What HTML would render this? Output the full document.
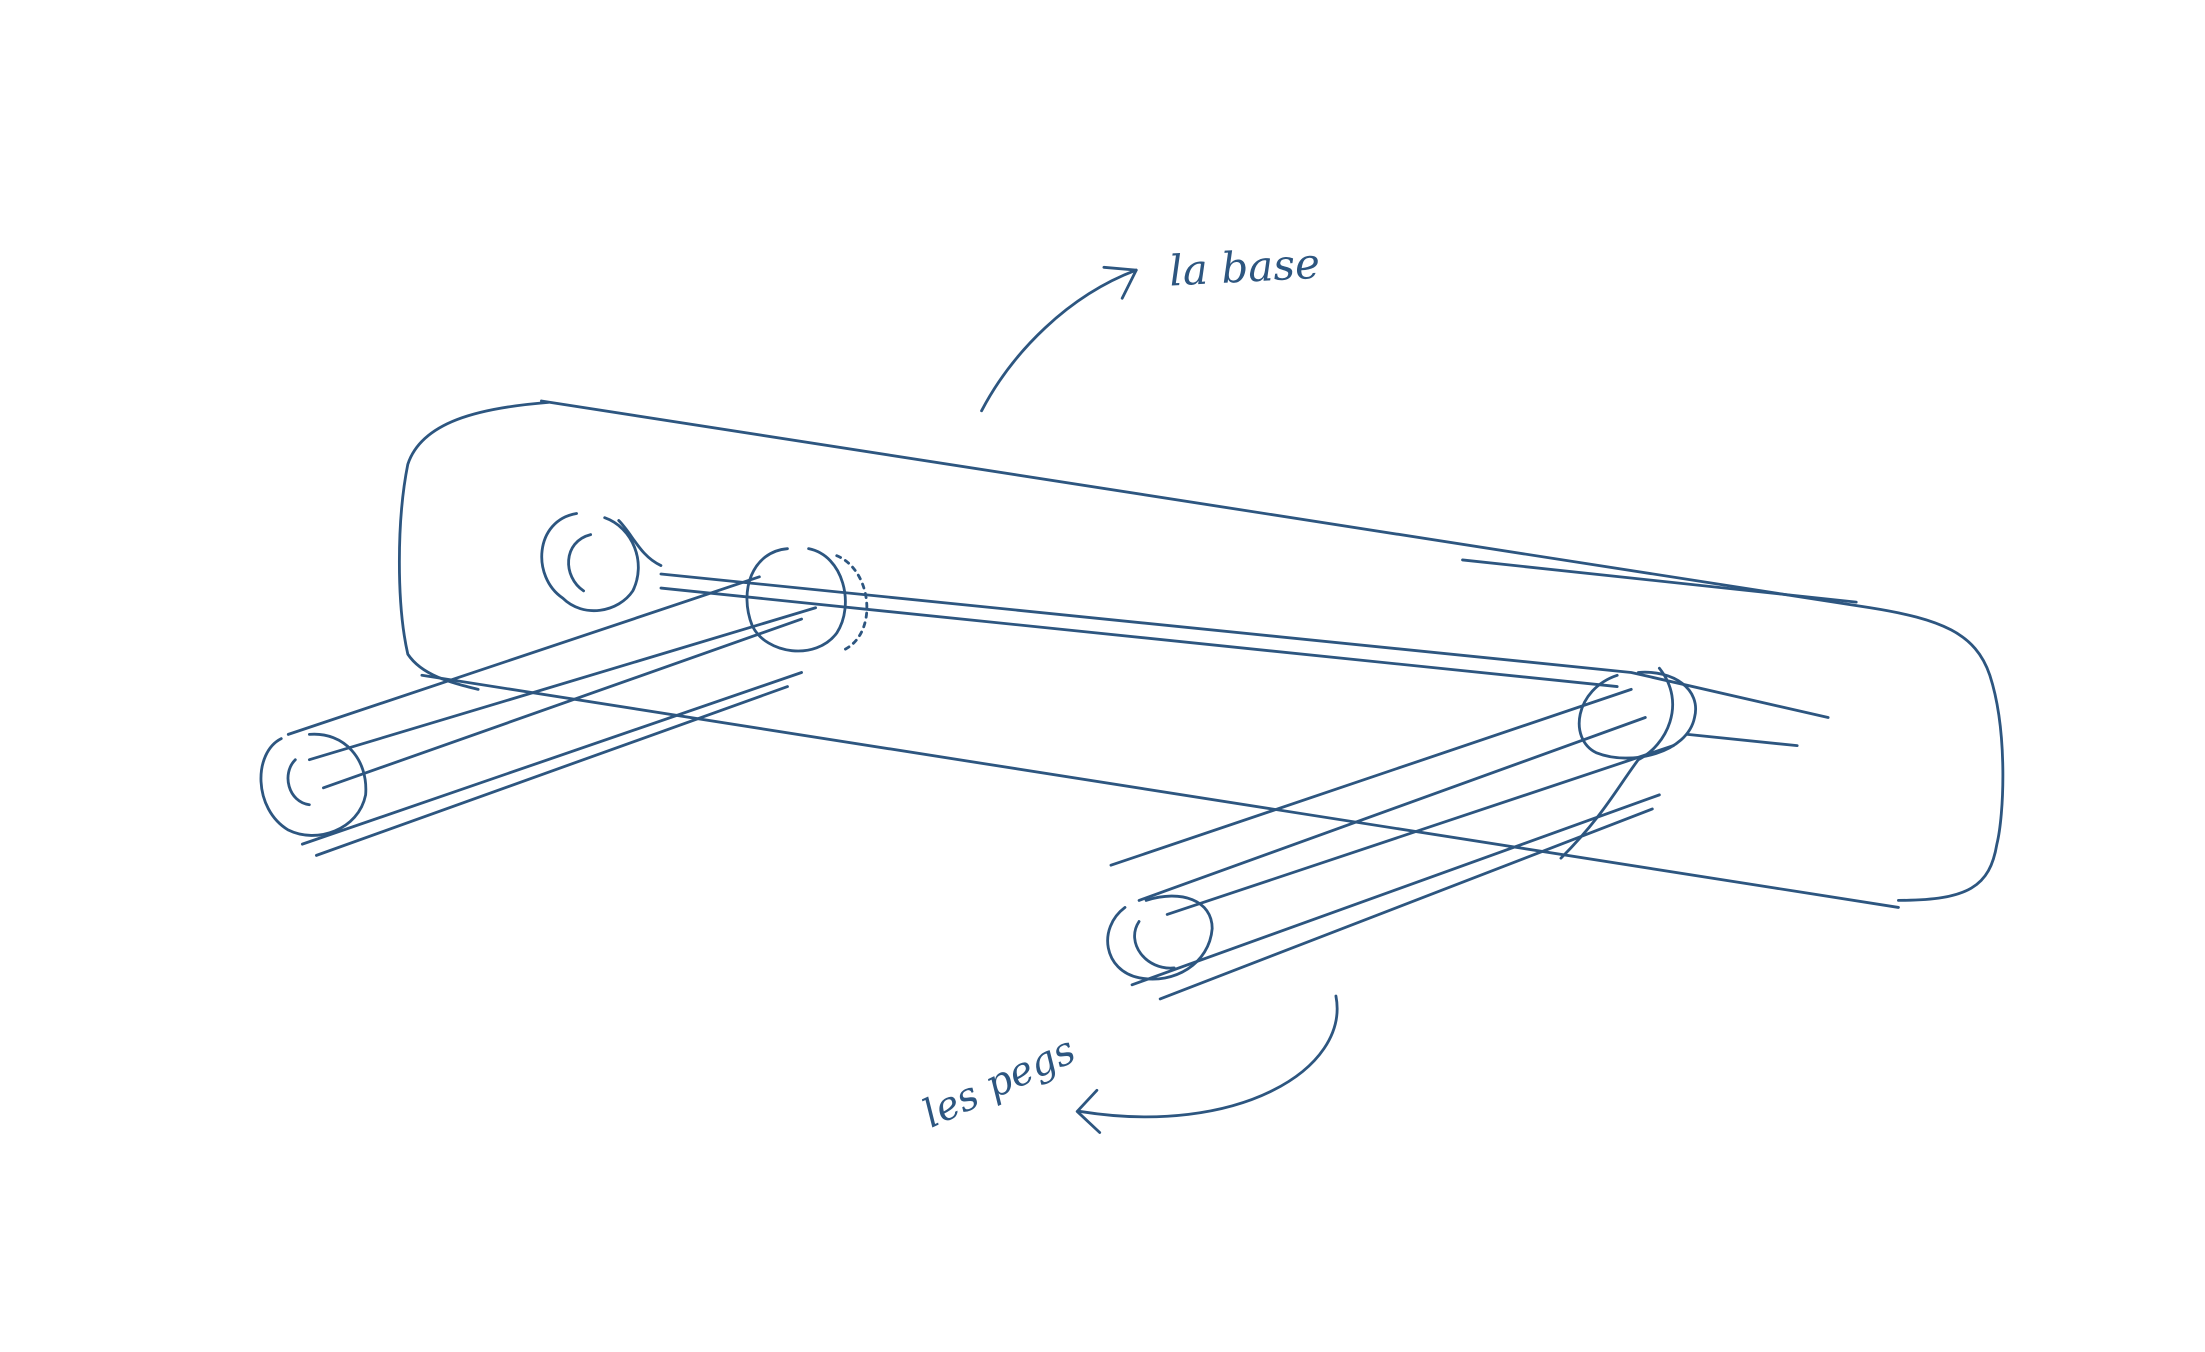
<!DOCTYPE html>
<html><head><meta charset="utf-8"><style>
html,body{margin:0;padding:0;background:#fff;}
svg{display:block;}
</style></head><body>
<svg width="2205" height="1352" viewBox="0 0 1568 961" preserveAspectRatio="none" xmlns="http://www.w3.org/2000/svg">
<rect width="1568" height="961" fill="#fff"/>
<g fill="none" stroke="#2d5680" stroke-width="2" stroke-linecap="round" stroke-linejoin="round">
<path d="M390 286 C340 290 300 300 290 330 C282 370 282 430 290 465 C300 480 320 485 340 490"/>
<path d="M385 285 L1330 432 C1380 440 1405 450 1415 480 C1428 520 1425 580 1420 600 C1415 630 1400 640 1350 640"/>
<path d="M1040 398 L1320 428"/>
<path d="M300 480 L1350 645"/>
<path d="M470 408 L1160 478 L1300 510"/>
<path d="M470 418 L1150 488"/>
<path d="M1200 522 L1278 530"/>
<path d="M410 365 C380 370 378 410 400 425 C415 440 440 435 450 420 C460 400 450 375 430 368"/>
<path d="M420 380 C400 385 400 410 415 420"/>
<path d="M440 370 C450 380 455 395 470 402"/>
<path d="M560 390 C535 392 525 420 535 445 C545 465 580 470 595 450 C608 430 600 395 575 390"/>
<path d="M595 395 C620 405 625 450 600 462" stroke-dasharray="3 4"/>
<path d="M200 525 C180 535 180 575 205 590 C225 600 255 590 260 565 C262 540 245 520 220 522"/>
<path d="M210 540 C200 550 205 570 220 572"/>
<path d="M205 522 L540 410"/>
<path d="M220 540 L580 432"/>
<path d="M230 560 L570 440"/>
<path d="M215 600 L570 478"/>
<path d="M225 608 L560 488"/>
<path d="M1150 480 C1120 490 1115 525 1135 535 C1160 545 1200 535 1205 510 C1210 490 1190 476 1165 478"/>
<path d="M1180 475 C1200 500 1185 530 1165 540 C1150 560 1140 580 1110 610"/>
<path d="M800 645 C780 660 785 690 810 695 C835 700 860 685 862 660 C862 640 840 632 815 640"/>
<path d="M810 655 C800 670 815 690 835 688"/>
<path d="M790 615 L1160 490"/>
<path d="M810 640 L1170 510"/>
<path d="M830 650 L1190 530"/>
<path d="M805 700 L1180 565"/>
<path d="M825 710 L1175 575"/>
<path d="M698 292 C720 250 760 210 808 192"/>
<path d="M785 190 L808 192 L798 212"/>
<path d="M950 708 C960 760 880 808 768 790"/>
<path d="M780 775 L766 790 L782 805"/>
</g>
<g fill="#2d5680" font-family="'DejaVu Serif','Liberation Serif',serif" font-style="italic">
<text x="832" y="203" font-size="30" transform="rotate(-3 832 203)">la base</text>
<text x="662" y="802" font-size="28" transform="rotate(-25 662 802)">les pegs</text>
</g>
</svg>
</body></html>
